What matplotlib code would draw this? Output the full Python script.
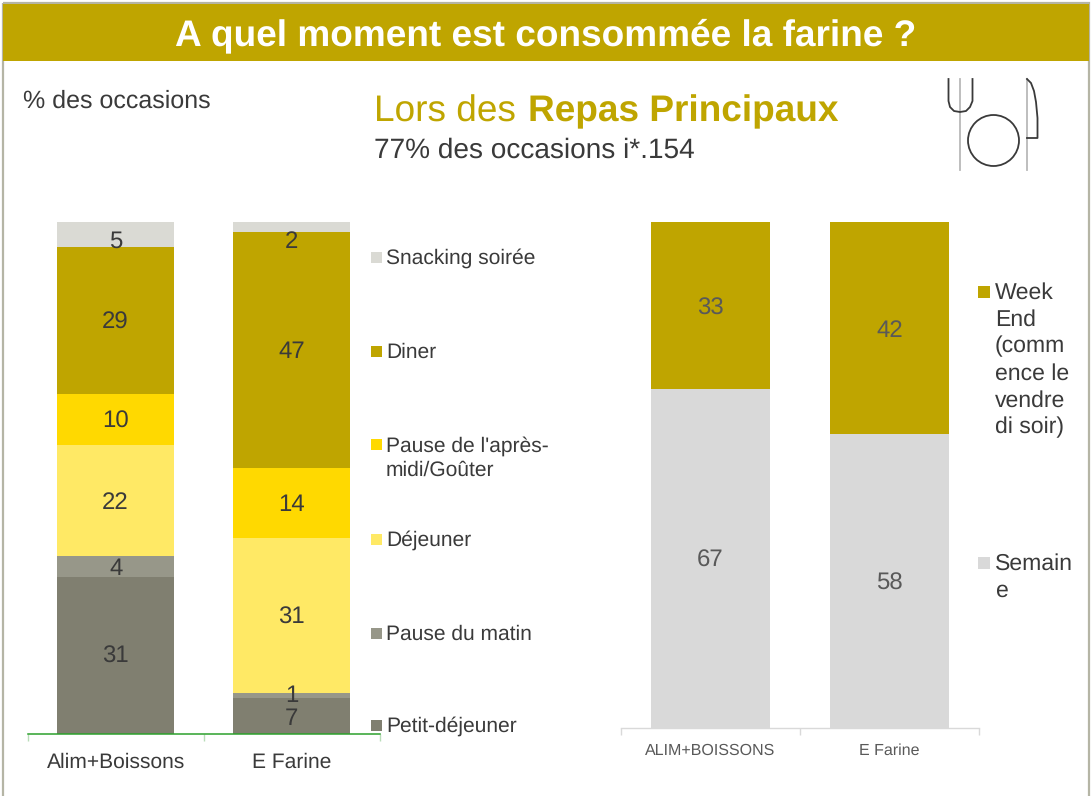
import matplotlib
matplotlib.use("Agg")
import matplotlib.pyplot as plt
from matplotlib.patches import Rectangle, Circle
import numpy as np

plt.rcParams['font.family'] = ['Liberation Sans', 'DejaVu Sans']
plt.rcParams['text.hinting'] = 'no_hinting'
plt.rcParams['text.hinting_factor'] = 1

W, H = 1091, 796
GOLD = '#BFA500'
TXT = '#3A3A3A'

# ---- data ----
left_categories = ['Alim+Boissons', 'E Farine']
left_series = ['Petit-déjeuner', 'Pause du matin', 'Déjeuner',
               "Pause de l'après-\nmidi/Goûter", 'Diner', 'Snacking soirée']
petit_dej = [31, 7]
pause_matin = [4, 1]
dejeuner = [22, 31]
pause_am = [10, 14]
diner = [29, 47]
snacking = [5, 2]

right_categories = ['ALIM+BOISSONS', 'E Farine']
semaine = [67, 58]
week_end = [33, 42]

left_colors = ['#807F70', '#979789', '#FFE965', '#FFD900', GOLD, '#DADAD4']
right_colors = ['#D9D9D9', GOLD]

fig = plt.figure(figsize=(W / 100, H / 100), dpi=100, facecolor='white')


def px_axes(x0, y0, x1, y1, **kw):
    """Axes placed using reference pixel box (y from top)."""
    return fig.add_axes([x0 / W, 1 - y1 / H, (x1 - x0) / W, (y1 - y0) / H], **kw)


# background overlay in pixel coordinates
bg = fig.add_axes([0, 0, 1, 1], zorder=0)
bg.set_xlim(0, W)
bg.set_ylim(H, 0)
bg.axis('off')
frame = '#B5B5A5'
bg.add_patch(Rectangle((3, 3), W - 5.5, H, fill=False, ec=frame, lw=1.6))
bg.add_patch(Rectangle((3, 4), W - 5.5, 57, fc=GOLD, ec='none'))
bg.text(546, 36, 'A quel moment est consommée la farine ?', color='white',
        fontsize=26.8, fontweight='bold', ha='center', va='center')
bg.text(23, 101, '% des occasions', color=TXT, fontsize=18.2, ha='left', va='center')
bg.text(374, 112, 'Lors des', color=GOLD, fontsize=26.5, ha='left', va='center')
bg.text(528, 112, 'Repas Principaux', color=GOLD, fontsize=26.8, fontweight='bold',
        ha='left', va='center')
bg.text(374, 150, '77% des occasions i*.154', color=TXT, fontsize=20, ha='left', va='center')

# cutlery icon
ic = '#3A3A3A'
gr = '#B9B9B9'
bg.plot([959.5, 959.5], [79, 170], color=gr, lw=1.3)
bg.plot([1027, 1027], [79, 170], color=gr, lw=1.3)
bg.plot([948.5, 948.5, 950, 954, 960, 966, 970, 972.5, 972.5],
        [79, 101, 107, 111, 112, 111, 107, 101, 79], color=ic, lw=1.3)
bg.add_patch(Circle((993.5, 140.5), 25.5, fill=False, ec=ic, lw=1.3))
bg.plot([1027, 1031, 1034, 1036, 1037.5, 1037.5, 1027],
        [79, 83, 91, 102, 118, 138, 138], color=ic, lw=1.3)


def stacked(ax, cats, series_vals, colors, width):
    arr = np.array(series_vals, dtype=float)
    pct = arr / arr.sum(axis=0) * 100
    x = np.arange(len(cats))
    bottom = np.zeros(len(cats))
    for vals, c in zip(pct, colors):
        ax.bar(x, vals, width, bottom=bottom, color=c, ec='none')
        bottom += vals
    ax.set_xlim(-0.5, len(cats) - 0.5)
    ax.set_ylim(0, 100)
    ax.patch.set_alpha(0)
    for s in ('top', 'left', 'right'):
        ax.spines[s].set_visible(False)
    ax.yaxis.set_visible(False)
    ax.set_xticks(x)
    ax.set_xticklabels(cats)
    return arr, pct


# ---- left chart ----
axl = px_axes(27.5, 222, 380, 733.5, zorder=2)
left_vals = [petit_dej, pause_matin, dejeuner, pause_am, diner, snacking]
arr, pct = stacked(axl, left_categories, left_vals, left_colors, 117 / 176.5)
axl.spines['bottom'].set_color('#2CA02C')
axl.spines['bottom'].set_linewidth(1.1)
axl.set_xticks([-0.5, 0.5, 1.5], minor=True)
axl.tick_params(axis='x', which='minor', length=5, direction='out', color='#B9DDB9', width=1)
axl.tick_params(axis='x', which='major', length=0, pad=13.5, labelsize=15, labelcolor=TXT)
cum = np.cumsum(pct, axis=0)
# label nudges in pixels for the thin segments
nudge = {(5, 0): -5, (5, 1): -13, (1, 1): 2, (0, 1): -1}
for i in range(arr.shape[0]):
    for j in range(arr.shape[1]):
        yc = cum[i, j] - pct[i, j] / 2
        axl.annotate(f'{arr[i, j]:.0f}', (j, yc),
                     xytext=(0, (nudge.get((i, j), 0) - 2) * 0.72),
                     textcoords='offset points', ha='center', va='center',
                     fontsize=17, color=TXT)

legend_y = [725, 633, 539, 444, 351, 257]
for name, c, y in zip(left_series, left_colors, legend_y):
    bg.add_patch(Rectangle((371, y - 5.5), 11, 11, fc=c, ec='none'))
    if '\n' in name:
        bg.text(386, y - 8, name, color=TXT, fontsize=15, ha='left', va='top', linespacing=1.3)
    else:
        bg.text(386, y + 1, name, color=TXT, fontsize=15, ha='left', va='center')

# ---- right chart ----
axr = px_axes(621, 222, 979, 727.5, zorder=2)
r_vals = [semaine, week_end]
arr2, pct2 = stacked(axr, right_categories, r_vals, right_colors, 119 / 179)
axr.spines['bottom'].set_color('#D9D9D9')
axr.spines['bottom'].set_linewidth(1)
axr.set_xticks([-0.5, 0.5, 1.5], minor=True)
axr.tick_params(axis='x', which='minor', length=5, direction='out', color='#D9D9D9', width=1)
axr.tick_params(axis='x', which='major', length=0, pad=11, labelsize=11.8, labelcolor='#595959')
cum2 = np.cumsum(pct2, axis=0)
for i in range(arr2.shape[0]):
    for j in range(arr2.shape[1]):
        axr.annotate(f'{arr2[i, j]:.0f}', (j, cum2[i, j] - pct2[i, j] / 2),
                     xytext=(0, -2), textcoords='offset points', ha='center', va='center',
                     fontsize=17, color='#595959')

for c, y, lines in [(GOLD, 292, 'Week\nEnd\n(comm\nence le\nvendre\ndi soir)'),
                    (right_colors[0], 563, 'Semain\ne')]:
    bg.add_patch(Rectangle((978, y - 6), 12, 12, fc=c, ec='none'))
    bg.text(995, y - 10, lines, color=TXT, fontsize=16.6, ha='left', va='top', linespacing=1.33)

fig.savefig('out.png', dpi=100)
